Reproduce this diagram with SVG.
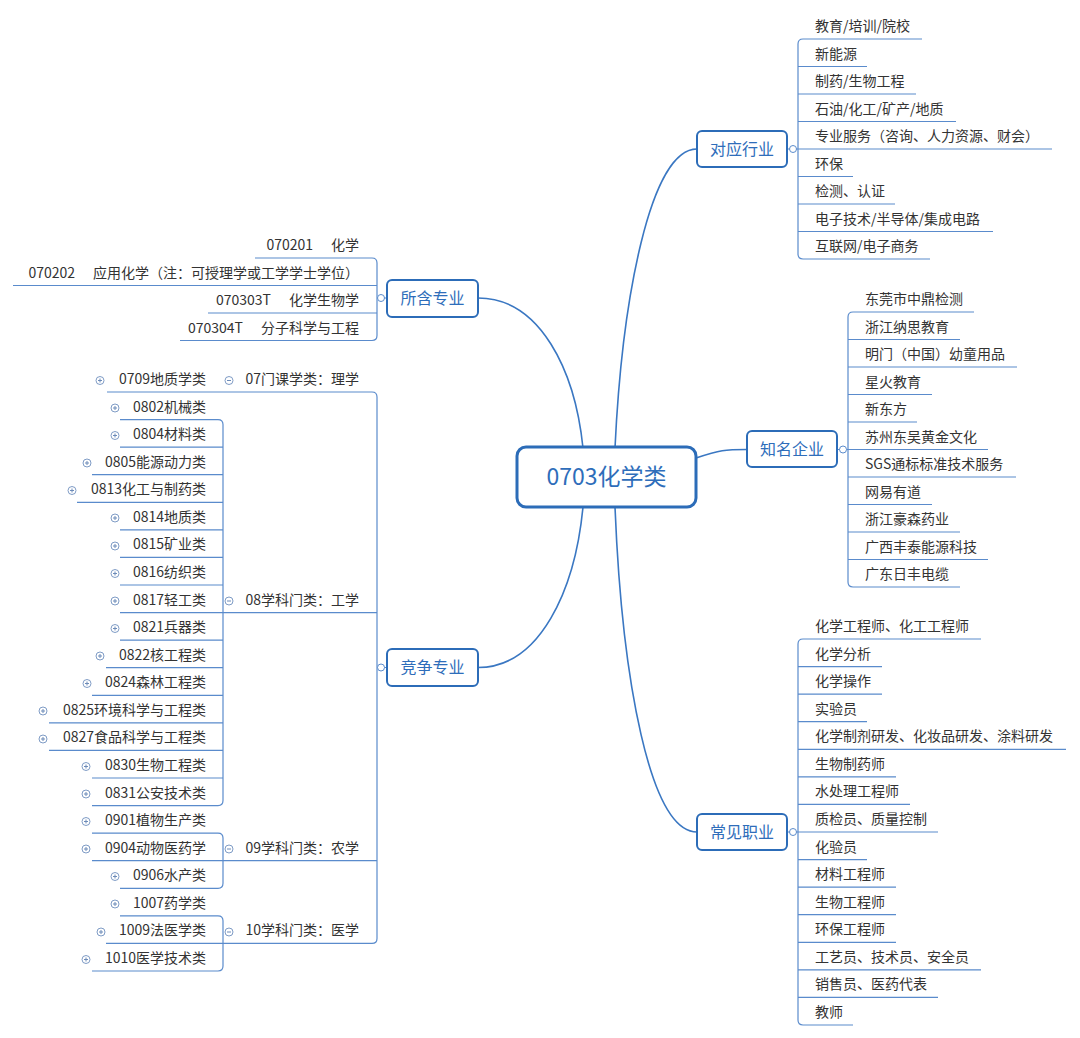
<svg xmlns="http://www.w3.org/2000/svg" width="1080" height="1038" viewBox="0 0 1080 1038">
<style>
.t{font-family:"Noto Sans CJK SC","Liberation Sans",sans-serif;font-size:14px;fill:#333}
.e{text-anchor:end}
.bt{font-family:"Noto Sans CJK SC","Liberation Sans",sans-serif;font-size:16px;fill:#2e6dba;text-anchor:middle}
.ct{font-family:"Noto Sans CJK SC","Liberation Sans",sans-serif;font-size:23px;fill:#2e6dba;text-anchor:middle}
.box{fill:#fff;stroke:#2c6cb8;stroke-width:2}
.main{fill:#fff;stroke:#2c6cb8;stroke-width:3}
.cn{fill:none;stroke:#3a77c2;stroke-width:1.6}
.ln{fill:none;stroke:#5a8bcc;stroke-width:1.2}
.dot{fill:#fff;stroke:#5a8bcc;stroke-width:1}
.ic{fill:#fff;stroke:#7f9cc6;stroke-width:1}
</style>
<defs>
<g id="plus"><circle class="ic" r="4"/><path d="M-2,0H2M0,-2V2" stroke="#6d8bb8" stroke-width="1"/></g>
<g id="minus"><circle class="ic" r="4"/><path d="M-2,0H2" stroke="#6d8bb8" stroke-width="1"/></g>
</defs>
<rect width="1080" height="1038" fill="#fff"/>

<g id="connectors">
<path class="cn" d="M583,448 C575,370 540,298 478,298"/>
<path class="cn" d="M615,448 C622,300 650,149 697,149"/>
<path class="cn" d="M696,458 C720,450 725,449.5 747,449.5"/>
<path class="cn" d="M615,507 C622,680 650,832 697,832"/>
<path class="cn" d="M583,507 C575,590 540,667.5 478,667.5"/>
<!-- 对应行业 -->
<path class="ln" d="M787,149H798M922,39H803Q798,39 798,44V254Q798,259 803,259H930M798,66.5H867M798,94H916M798,121.5H956M798,149H1052M798,176.5H853M798,204H895M798,231.5H993"/>
<!-- 知名企业 -->
<path class="ln" d="M837,449.5H848M974,312H853Q848,312 848,317V582Q848,587 853,587H960M848,339.5H960M848,367H1017M848,394.5H932M848,422H917M848,449.5H988M848,477H1016M848,504.5H932M848,532H960M848,559.5H988"/>
<!-- 常见职业 -->
<path class="ln" d="M787,832H798M981,639H803Q798,639 798,644V1020Q798,1025 803,1025H853M798,666.6H882M798,694.1H882M798,721.7H867M798,749.3H1066M798,776.9H896M798,804.4H910M798,832H938M798,859.6H867M798,887.1H896M798,914.7H896M798,942.3H896M798,969.8H981M798,997.4H938"/>
<!-- 所含专业 -->
<path class="ln" d="M387,298H377M255,258H372Q377,258 377,263V335.5Q377,340.5 372,340.5H180M13,285.5H377M208,313H377"/>
<!-- 竞争专业 -->
<path class="ln" d="M387,667.5H377M107,392H372Q377,392 377,397V938.4Q377,943.4 372,943.4H106M120,612.6H377M92,860.7H377"/>
<path class="ln" d="M120,419.6H218Q223,419.6 223,424.6V800.6Q223,805.6 218,805.6H92M120,447.1H223M92,474.7H223M77,502.3H223M120,529.9H223M120,557.4H223M120,585H223M120,640.1H223M106,667.7H223M92,695.3H223M49,722.8H223M49,750.4H223M92,778H223"/>
<path class="ln" d="M92,833.1H218Q223,833.1 223,838.1V883.3Q223,888.3 218,888.3H120"/>
<path class="ln" d="M120,915.8H218Q223,915.8 223,920.8V966Q223,971 218,971H92"/>
<circle class="dot" cx="793" cy="149" r="3.5"/>
<circle class="dot" cx="843" cy="449.5" r="3.5"/>
<circle class="dot" cx="793" cy="832" r="3.5"/>
<circle class="dot" cx="381" cy="298" r="3.5"/>
<circle class="dot" cx="381" cy="667.5" r="3.5"/>
</g>

<g id="center"><rect class="main" x="517" y="447" width="179" height="60" rx="9"/><text class="ct" x="606.5" y="485">0703化学类</text></g>

<g id="n-industry"><rect class="box" x="697" y="131" width="90" height="36" rx="5"/><text class="bt" x="742" y="155">对应行业</text></g>
<g id="n-company"><rect class="box" x="747" y="431" width="90" height="36" rx="5"/><text class="bt" x="792" y="455">知名企业</text></g>
<g id="n-career"><rect class="box" x="697" y="814" width="90" height="36" rx="5"/><text class="bt" x="742" y="838">常见职业</text></g>
<g id="n-major"><rect class="box" x="387" y="280" width="91" height="37" rx="5"/><text class="bt" x="432.5" y="304">所含专业</text></g>
<g id="n-compete"><rect class="box" x="387" y="649" width="91" height="37" rx="5"/><text class="bt" x="432.5" y="673">竞争专业</text></g>

<g id="industry-items" class="t">
<text class="t" x="815" y="31">教育/培训/院校</text>
<text class="t" x="815" y="58.5">新能源</text>
<text class="t" x="815" y="86">制药/生物工程</text>
<text class="t" x="815" y="113.5">石油/化工/矿产/地质</text>
<text class="t" x="815" y="141">专业服务（咨询、人力资源、财会）</text>
<text class="t" x="815" y="168.5">环保</text>
<text class="t" x="815" y="196">检测、认证</text>
<text class="t" x="815" y="223.5">电子技术/半导体/集成电路</text>
<text class="t" x="815" y="251">互联网/电子商务</text>
</g>

<g id="company-items">
<text class="t" x="865" y="304">东莞市中鼎检测</text>
<text class="t" x="865" y="331.5">浙江纳思教育</text>
<text class="t" x="865" y="359">明门（中国）幼童用品</text>
<text class="t" x="865" y="386.5">星火教育</text>
<text class="t" x="865" y="414">新东方</text>
<text class="t" x="865" y="441.5">苏州东吴黄金文化</text>
<text class="t" x="865" y="469">SGS通标标准技术服务</text>
<text class="t" x="865" y="496.5">网易有道</text>
<text class="t" x="865" y="524">浙江豪森药业</text>
<text class="t" x="865" y="551.5">广西丰泰能源科技</text>
<text class="t" x="865" y="579">广东日丰电缆</text>
</g>

<g id="career-items">
<text class="t" x="815" y="631">化学工程师、化工工程师</text>
<text class="t" x="815" y="658.6">化学分析</text>
<text class="t" x="815" y="686.1">化学操作</text>
<text class="t" x="815" y="713.7">实验员</text>
<text class="t" x="815" y="741.3">化学制剂研发、化妆品研发、涂料研发</text>
<text class="t" x="815" y="768.9">生物制药师</text>
<text class="t" x="815" y="796.4">水处理工程师</text>
<text class="t" x="815" y="824">质检员、质量控制</text>
<text class="t" x="815" y="851.6">化验员</text>
<text class="t" x="815" y="879.1">材料工程师</text>
<text class="t" x="815" y="906.7">生物工程师</text>
<text class="t" x="815" y="934.3">环保工程师</text>
<text class="t" x="815" y="961.8">工艺员、技术员、安全员</text>
<text class="t" x="815" y="989.4">销售员、医药代表</text>
<text class="t" x="815" y="1017">教师</text>
</g>

<g id="major-items">
<text class="t e" x="359" y="250">070201<tspan dx="18">化学</tspan></text>
<text class="t e" x="359" y="277.5">070202<tspan dx="18">应用化学（注：可授理学或工学学士学位）</tspan></text>
<text class="t e" x="359" y="305">070303T<tspan dx="18">化学生物学</tspan></text>
<text class="t e" x="359" y="332.5">070304T<tspan dx="18">分子科学与工程</tspan></text>
</g>

<g id="compete-categories">
<use href="#minus" x="229" y="380.5"/><text class="t e" x="359" y="384">07门课学类：理学</text>
<use href="#minus" x="229" y="601"/><text class="t e" x="359" y="604.6">08学科门类：工学</text>
<use href="#minus" x="229" y="849"/><text class="t e" x="359" y="852.7">09学科门类：农学</text>
<use href="#minus" x="229" y="932"/><text class="t e" x="359" y="935.4">10学科门类：医学</text>
</g>

<g id="compete-items">
<use href="#plus" x="100" y="380.5"/><text class="t e" x="206" y="384">0709地质学类</text>
<use href="#plus" x="115" y="408"/><text class="t e" x="206" y="411.6">0802机械类</text>
<use href="#plus" x="115" y="435.5"/><text class="t e" x="206" y="439.1">0804材料类</text>
<use href="#plus" x="87" y="463"/><text class="t e" x="206" y="466.7">0805能源动力类</text>
<use href="#plus" x="72" y="490.5"/><text class="t e" x="206" y="494.3">0813化工与制药类</text>
<use href="#plus" x="115" y="518"/><text class="t e" x="206" y="521.9">0814地质类</text>
<use href="#plus" x="115" y="546"/><text class="t e" x="206" y="549.4">0815矿业类</text>
<use href="#plus" x="115" y="573.5"/><text class="t e" x="206" y="577">0816纺织类</text>
<use href="#plus" x="115" y="601"/><text class="t e" x="206" y="604.6">0817轻工类</text>
<use href="#plus" x="115" y="628.5"/><text class="t e" x="206" y="632.1">0821兵器类</text>
<use href="#plus" x="100" y="656"/><text class="t e" x="206" y="659.7">0822核工程类</text>
<use href="#plus" x="87" y="683.5"/><text class="t e" x="206" y="687.3">0824森林工程类</text>
<use href="#plus" x="43" y="711"/><text class="t e" x="206" y="714.8">0825环境科学与工程类</text>
<use href="#plus" x="43" y="739"/><text class="t e" x="206" y="742.4">0827食品科学与工程类</text>
<use href="#plus" x="86" y="766.5"/><text class="t e" x="206" y="770">0830生物工程类</text>
<use href="#plus" x="86" y="794"/><text class="t e" x="206" y="797.6">0831公安技术类</text>
<use href="#plus" x="86" y="821.5"/><text class="t e" x="206" y="825.1">0901植物生产类</text>
<use href="#plus" x="86" y="849"/><text class="t e" x="206" y="852.7">0904动物医药学</text>
<use href="#plus" x="115" y="876.5"/><text class="t e" x="206" y="880.3">0906水产类</text>
<use href="#plus" x="115" y="904"/><text class="t e" x="206" y="907.8">1007药学类</text>
<use href="#plus" x="101" y="932"/><text class="t e" x="206" y="935.4">1009法医学类</text>
<use href="#plus" x="86" y="959.5"/><text class="t e" x="206" y="963">1010医学技术类</text>
</g>
</svg>
